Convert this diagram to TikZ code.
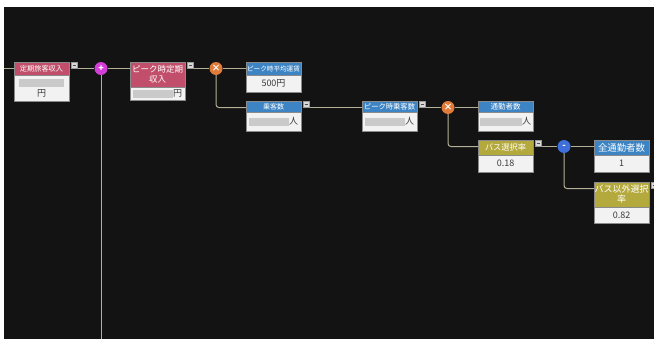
\documentclass[tikz,border=0pt]{standalone}
\usepackage{fontspec}
\setmainfont{Noto Sans CJK JP}
\usepackage{xcolor}
\usepackage{tikz}
\usetikzlibrary{positioning}
\definecolor{bgDark}{HTML}{131313}
\definecolor{pinkBar}{HTML}{C14F6B}
\definecolor{blueBar}{HTML}{3D84C4}
\definecolor{oliveBar}{HTML}{B4A93C}
\definecolor{valueBg}{HTML}{F2F2F2}
\definecolor{valueText}{HTML}{3A3A3A}
\definecolor{cardEdge}{HTML}{8A8A8A}
\definecolor{wireColor}{HTML}{B3B196}
\definecolor{btnFill}{HTML}{D8D8D8}
\definecolor{btnEdge}{HTML}{9A9A9A}
\definecolor{btnDash}{HTML}{505050}
\definecolor{blurGray}{HTML}{CACACA}
\definecolor{plusMag}{HTML}{D23ED6}
\definecolor{mulOrange}{HTML}{E07B39}
\definecolor{minusBlue}{HTML}{3E6FDB}
\newcommand{\blurbar}[1]{\textcolor{blurGray}{\rule[-1pt]{#1}{8pt}}}
\newcommand{\btndash}{\textcolor{btnDash}{\rule{3.5pt}{1.2pt}}}

\begin{document}
\begin{tikzpicture}[
        x=1pt, y=-1pt,
        cardHead/.style={draw=cardEdge, text=white, inner sep=0pt, outer sep=0pt, text width=55pt, align=center, anchor=north west},
        pinkHead/.style={cardHead, fill=pinkBar},
        blueHead/.style={cardHead, fill=blueBar},
        oliveHead/.style={cardHead, fill=oliveBar},
        cardValue/.style={draw=cardEdge, fill=valueBg, text=valueText, inner sep=0pt, outer sep=0pt, text width=55pt, align=center, font=\fontsize{9}{10}\selectfont},
        minusBtn/.style={draw=btnEdge, fill=btnFill, minimum size=6.5pt, inner sep=0pt, outer sep=0pt, anchor=north west, xshift=2pt},
        opCircle/.style={circle, minimum size=13pt, inner sep=0pt, text=white, font=\bfseries\fontsize{9}{9}\selectfont},
        wire/.style={draw=wireColor, line width=1pt}
    ]
        % Frame
        \useasboundingbox (0,0) rectangle (654,340);
        \fill[bgDark] (4,7) rectangle (654,339);

        % Cards
        \node[pinkHead, minimum height=13pt, font=\fontsize{7.2}{8}\selectfont, at={(14,62)}] (teiki) {定期旅客収入};
        \node[cardValue, minimum height=26pt, below=0pt of teiki] (teikiVal) {\blurbar{46pt}\\円};

        \node[pinkHead, minimum height=25pt, font=\fontsize{8.5}{10}\selectfont, at={(130,62)}] (peak) {ピーク時定期\\収入};
        \node[cardValue, minimum height=13pt, below=0pt of peak] (peakVal) {\blurbar{40pt}円};

        \node[blueHead, minimum height=13pt, font=\fontsize{6.6}{8}\selectfont, at={(246,62)}] (heikin) {ピーク時平均運賃};
        \node[cardValue, minimum height=17pt, below=0pt of heikin] (heikinVal) {500円};

        \node[blueHead, minimum height=11pt, font=\fontsize{7}{8}\selectfont, at={(246,101)}] (jokyaku) {乗客数};
        \node[cardValue, minimum height=19pt, below=0pt of jokyaku] (jokyakuVal) {\blurbar{40pt}人};

        \node[blueHead, minimum height=11pt, font=\fontsize{7.3}{8}\selectfont, at={(362,101)}] (peakJ) {ピーク時乗客数};
        \node[cardValue, minimum height=19pt, below=0pt of peakJ] (peakJVal) {\blurbar{40pt}人};

        \node[blueHead, minimum height=11pt, font=\fontsize{7.5}{8}\selectfont, at={(478,101)}] (tsukin) {通勤者数};
        \node[cardValue, minimum height=19pt, below=0pt of tsukin] (tsukinVal) {\blurbar{42pt}人};

        \node[oliveHead, minimum height=15pt, font=\fontsize{8.2}{10}\selectfont, at={(478,140)}] (bus) {バス選択率};
        \node[cardValue, minimum height=17pt, below=0pt of bus] (busVal) {0.18};

        \node[blueHead, minimum height=15pt, font=\fontsize{9.4}{10}\selectfont, at={(594,140)}] (zen) {全通勤者数};
        \node[cardValue, minimum height=17pt, below=0pt of zen] (zenVal) {1};

        \node[oliveHead, minimum height=25pt, font=\fontsize{9}{10}\selectfont, at={(594,182)}] (busigai) {バス以外選択\\率};
        \node[cardValue, minimum height=16pt, below=0pt of busigai] (busigaiVal) {0.82};

        % Collapse buttons
        \node[minusBtn, at={(teiki.north east)}] (btn1) {\btndash};
        \node[minusBtn, at={(peak.north east)}] (btn2) {\btndash};
        \node[minusBtn, at={(jokyaku.north east)}] (btn4) {\btndash};
        \node[minusBtn, at={(peakJ.north east)}] (btn5) {\btndash};
        \node[minusBtn, at={(bus.north east)}] (btn7) {\btndash};
        \node[minusBtn, at={(busigai.north east)}] (btn9) {\btndash};

        % Operators
        \node[opCircle, fill=plusMag, at={(101,68.5)}] (plusOp) {+};
        \node[opCircle, fill=mulOrange, at={(216,68.5)}] (mul1) {×};
        \node[opCircle, fill=mulOrange, at={(448,107.5)}] (mul2) {×};
        \node[opCircle, fill=minusBlue, at={(564,146.5)}] (minusOp) {-};

        \coordinate (leftEnd) at (4,68.5);
        \coordinate (bottomEnd) at (101,339);

        % Wires
        \draw[wire] (leftEnd) -- (leftEnd -| teiki.west);
        \draw[wire] (btn1.south east) -- (plusOp.west);
        \draw[wire] (plusOp.south) -- (bottomEnd);
        \draw[wire] (plusOp.east) -- (plusOp.east -| peak.west);
        \draw[wire] (btn2.south east) -- (mul1.west);
        \draw[wire] (mul1.east) -- (mul1.east -| heikin.west);
        \draw[wire, rounded corners=3pt] (mul1.south) |- (btn4.south -| jokyaku.west);
        \draw[wire] (btn4.south east) -- (btn4.south east -| peakJ.west);
        \draw[wire] (btn5.south east) -- (mul2.west);
        \draw[wire] (mul2.east) -- (mul2.east -| tsukin.west);
        \draw[wire, rounded corners=3pt] (mul2.south) |- (btn7.south -| bus.west);
        \draw[wire] (btn7.south east) -- (minusOp.west);
        \draw[wire] (minusOp.east) -- (minusOp.east -| zen.west);
        \draw[wire, rounded corners=3pt] (minusOp.south) |- (btn9.south -| busigai.west);
    \end{tikzpicture}
\end{document}
